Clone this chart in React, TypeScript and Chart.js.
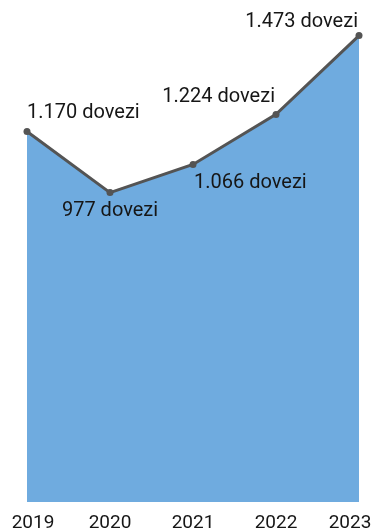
import React, { useEffect, useRef } from "react";
import { Chart, registerables } from "chart.js";

Chart.register(...registerables);

const years = ["2019", "2020", "2021", "2022", "2023"];
const imports = [1170, 977, 1066, 1224, 1473];
const labelTexts = ["1.170 dovezi", "977 dovezi", "1.066 dovezi", "1.224 dovezi", "1.473 dovezi"];

const FONT = "Roboto, 'Noto Sans', sans-serif";

// placement of each data label relative to its point: [textAlign, dx, dy(baseline)]
const labelPlacement: [CanvasTextAlign, number, number][] = [
  ["left", 0, -14],
  ["center", 0, 23],
  ["left", 1, 24],
  ["right", -1, -12],
  ["right", -1, -9],
];
// horizontal nudge of the year labels (edge labels kept inside the canvas)
const tickShift = [6, 0, 0, 0, -9];

const dataLabelPlugin = {
  id: "dataLabels",
  afterDatasetsDraw(chart: any) {
    const ctx = chart.ctx;
    const meta = chart.getDatasetMeta(0);
    ctx.save();
    ctx.font = `20px ${FONT}`;
    ctx.fillStyle = "#161616";
    ctx.textBaseline = "alphabetic";
    meta.data.forEach((pt: any, i: number) => {
      const [align, dx, dy] = labelPlacement[i];
      ctx.textAlign = align;
      ctx.fillText(labelTexts[i], pt.x + dx, pt.y + dy);
    });
    // year labels
    const xs = chart.scales.x;
    ctx.font = `19px ${FONT}`;
    ctx.textAlign = "center";
    years.forEach((y, i) => {
      ctx.fillText(y, xs.getPixelForValue(i) + tickShift[i], chart.chartArea.bottom + 26);
    });
    ctx.restore();
  },
};

export default function App() {
  const ref = useRef<HTMLCanvasElement>(null);
  useEffect(() => {
    if (!ref.current) return;
    const chart = new Chart(ref.current, {
      type: "line",
      data: {
        labels: years,
        datasets: [
          {
            data: imports,
            borderColor: "#545454",
            borderWidth: 3,
            backgroundColor: "#6fabdf",
            fill: "origin",
            pointRadius: 3.5,
            pointBorderWidth: 0,
            pointBackgroundColor: "#545454",
            pointBorderColor: "#545454",
            tension: 0,
          },
        ],
      },
      options: {
        animation: false,
        responsive: false,
        maintainAspectRatio: false,
        layout: { padding: { left: 27, right: 17, top: 27, bottom: 26 } },
        plugins: { legend: { display: false }, tooltip: { enabled: false } },
        scales: {
          x: {
            display: false,
            offset: false,
          },
          y: {
            display: false,
            min: 0,
            max: 1500,
          },
        },
      },
      plugins: [dataLabelPlugin],
    });
    return () => chart.destroy();
  }, []);
  return (
    <div style={{ position: "fixed", left: 0, top: 0, width: 376, height: 528, background: "#fff" }}>
      <canvas ref={ref} width={376} height={528} style={{ display: "block" }} />
    </div>
  );
}
